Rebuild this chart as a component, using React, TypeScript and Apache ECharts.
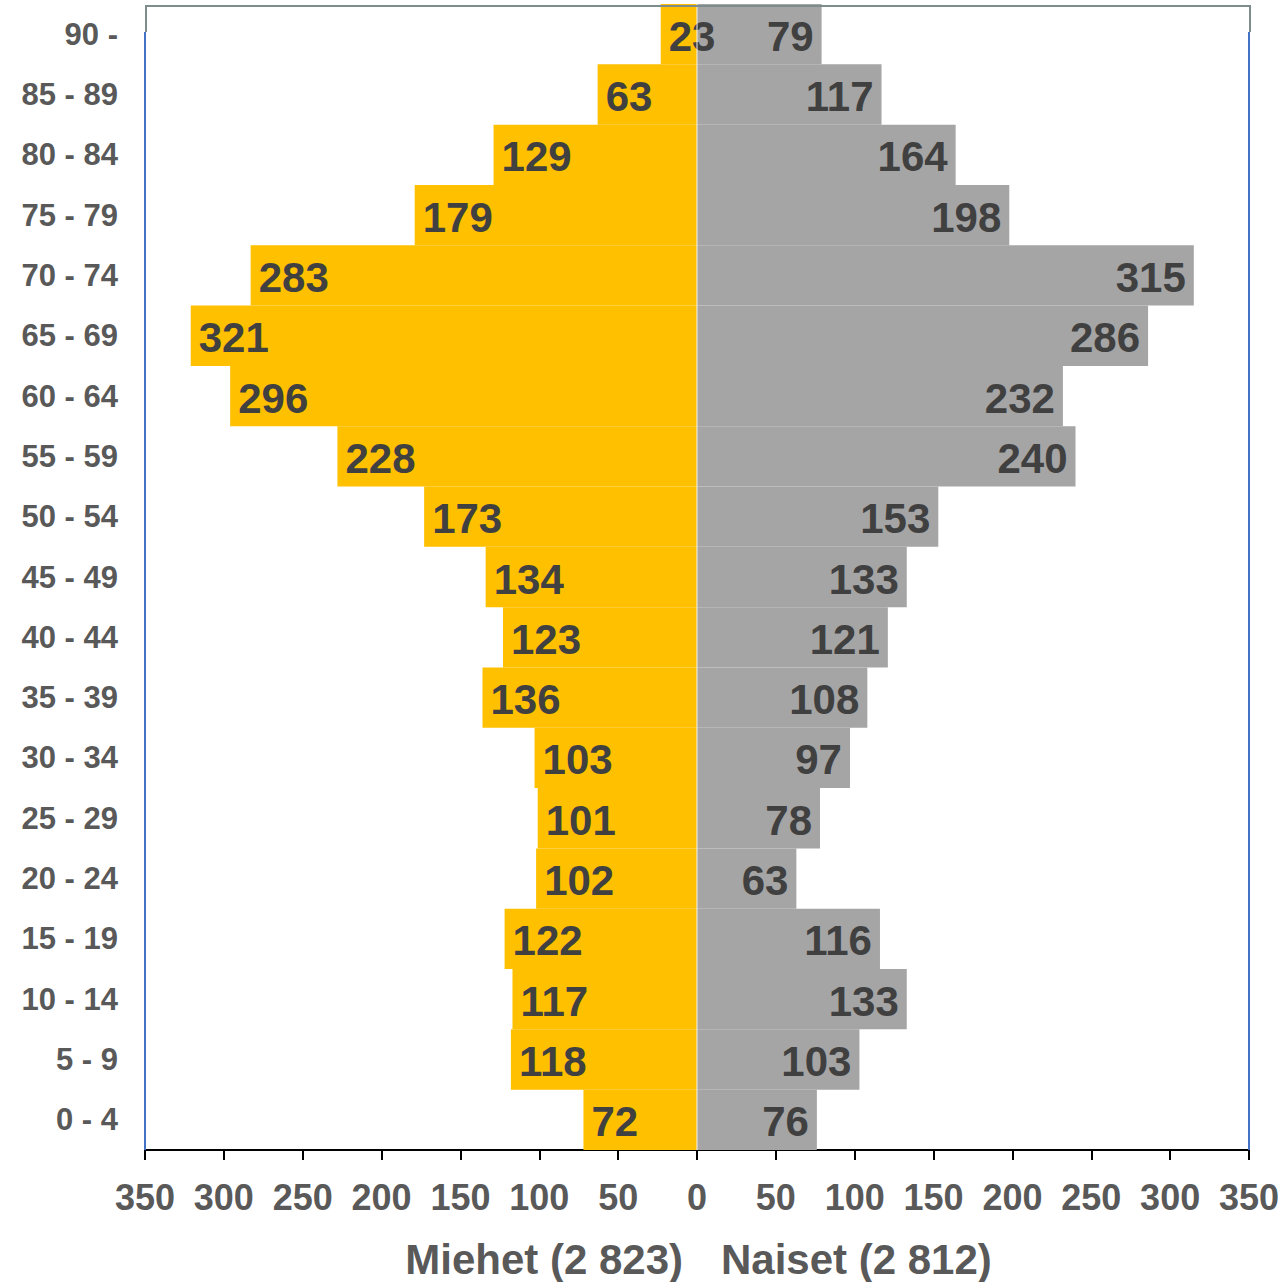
import React, { useEffect, useRef } from "react";
import * as echarts from "echarts";

const ageGroups = ["0 - 4", "5 - 9", "10 - 14", "15 - 19", "20 - 24", "25 - 29", "30 - 34", "35 - 39", "40 - 44", "45 - 49", "50 - 54", "55 - 59", "60 - 64", "65 - 69", "70 - 74", "75 - 79", "80 - 84", "85 - 89", "90 -"];
const men = [72, 118, 117, 122, 102, 101, 103, 136, 123, 134, 173, 228, 296, 321, 283, 179, 129, 63, 23];
const women = [76, 103, 133, 116, 63, 78, 97, 108, 121, 133, 153, 240, 232, 286, 315, 198, 164, 117, 79];
const menTitle = "Miehet (2 823)";
const womenTitle = "Naiset (2 812)";

const FONT = "'Liberation Sans', Arial, sans-serif";

export default function App() {
  const ref = useRef<HTMLDivElement>(null);
  useEffect(() => {
    if (!ref.current) return;
    const chart = echarts.init(ref.current, undefined, { renderer: "svg" });
    const labelStyle = {
      show: true,
      fontFamily: FONT,
      fontWeight: "bold" as const,
      fontSize: 42,
      color: "#404040",
      distance: 8,
      offset: [0, 2],
    };
    chart.setOption({
      animation: false,
      backgroundColor: "#ffffff",
      grid: { left: 145, right: 37, top: 4, bottom: 132, containLabel: false },
      xAxis: {
        type: "value",
        min: -350,
        max: 350,
        interval: 50,
        splitLine: { show: false },
        axisLine: { show: true, onZero: false, lineStyle: { color: "#000000", width: 2 } },
        axisTick: { show: true, length: 10, lineStyle: { color: "#000000", width: 2 } },
        axisLabel: {
          formatter: (v: number) => String(Math.abs(v)),
          fontFamily: FONT,
          fontWeight: "bold",
          fontSize: 36,
          color: "#595959",
          margin: 29,
        },
      },
      yAxis: {
        type: "category",
        data: ageGroups,
        axisLine: { show: false },
        axisTick: { show: false },
        axisLabel: {
          fontFamily: FONT,
          fontWeight: "bold",
          fontSize: 31,
          color: "#595959",
          margin: 27,
          padding: [5, 0, 0, 0],
        },
      },
      series: [
        {
          name: "Miehet",
          type: "bar",
          stack: "pop",
          barCategoryGap: "0%",
          data: men.map((v) => -v),
          itemStyle: { color: "#FFC000", borderColor: "#FFC000", borderWidth: 1.5 },
          label: { ...labelStyle, position: "insideLeft", formatter: (p: any) => String(Math.abs(p.value)) },
        },
        {
          name: "Naiset",
          type: "bar",
          stack: "pop",
          barCategoryGap: "0%",
          data: women,
          itemStyle: { color: "#A5A5A5", borderColor: "#A5A5A5", borderWidth: 1.5 },
          label: { ...labelStyle, position: "insideRight" },
        },
      ],
      graphic: [
        { type: "line", shape: { x1: 145, y1: 32, x2: 145, y2: 1150 }, style: { stroke: "#4472C4", lineWidth: 2 }, z: 100 },
        { type: "line", shape: { x1: 1249, y1: 32, x2: 1249, y2: 1150 }, style: { stroke: "#4472C4", lineWidth: 2 }, z: 100 },
        { type: "polyline", shape: { points: [[146, 32], [146, 6], [1250, 6], [1250, 32]] }, style: { stroke: "#7F8C8D", lineWidth: 2, fill: "none" }, z: 100 },
        { type: "line", shape: { x1: 697, y1: 4, x2: 697, y2: 1150 }, style: { stroke: "#F2F2F2", lineWidth: 1 }, z: 50 },
        {
          type: "text",
          x: 683,
          y: 1259,
          style: { text: menTitle, fontFamily: FONT, fontWeight: "bold", fontSize: 42, lineHeight: 42, fill: "#595959", align: "right", verticalAlign: "middle" },
        },
        {
          type: "text",
          x: 721,
          y: 1259,
          style: { text: womenTitle, fontFamily: FONT, fontWeight: "bold", fontSize: 42, lineHeight: 42, fill: "#595959", align: "left", verticalAlign: "middle" },
        },
      ],
    });
    return () => chart.dispose();
  }, []);
  return <div ref={ref} style={{ width: 1286, height: 1282, position: "absolute", left: 0, top: 0 }} />;
}
